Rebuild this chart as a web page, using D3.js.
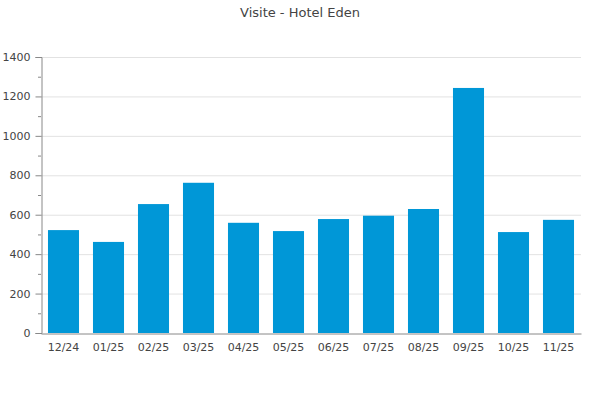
<!DOCTYPE html>
<html><head><meta charset="utf-8">
<script src="https://cdn.jsdelivr.net/npm/d3@7"></script>
<style>body{margin:0;background:#fff;} text{font-family:"DejaVu Sans",sans-serif;}</style>
</head><body>
<svg id="c" width="600" height="400"></svg>
<script>
const title = "Visite - Hotel Eden";
const categories = ["12/24","01/25","02/25","03/25","04/25","05/25","06/25","07/25","08/25","09/25","10/25","11/25"];
const visits = [522, 462, 654, 762, 559, 517, 578, 595, 629, 1243, 512, 574];
const yTicks = [0,200,400,600,800,1000,1200,1400];
const yMinorTicks = [100,300,500,700,900,1100,1300];

(function () {
const svg = d3.select("#c");
const mLeft = 41, mRight = 581, mTop = 57, mBottom = 333;
const x = d3.scaleBand().domain(categories).range([mLeft, mRight]).paddingInner(0.31).paddingOuter(0.155);
const y = d3.scaleLinear().domain([0, 1400]).range([mBottom, mTop]);

svg.append("text").attr("x", 300).attr("y", 17).attr("text-anchor", "middle")
  .attr("font-size", 13).attr("fill", "#444").text(title);

// grid
svg.append("g").selectAll("line").data(yTicks.filter(d => d > 0)).join("line")
  .attr("x1", mLeft).attr("x2", mRight).attr("y1", d => y(d) + 0.5).attr("y2", d => y(d) + 0.5)
  .attr("stroke", "#e2e2e2");

// bars
svg.append("g").selectAll("rect").data(visits).join("rect")
  .attr("x", (d, i) => x(categories[i])).attr("width", x.bandwidth())
  .attr("y", d => y(d)).attr("height", d => mBottom - y(d))
  .attr("fill", "#0097d7");

// y axis
const ya = svg.append("g").attr("transform", `translate(${mLeft + 0.5},0)`)
  .call(d3.axisLeft(y).tickValues(yTicks).tickSize(6).tickFormat(d3.format("d")));
ya.select(".domain").attr("stroke", "#888");
ya.selectAll(".tick line").attr("stroke", "#888");
ya.selectAll("text").attr("font-family", "DejaVu Sans").attr("font-size", 11).attr("fill", "#444").attr("dx", "-2");
svg.append("g").selectAll("line").data(yMinorTicks).join("line")
  .attr("x1", mLeft - 3).attr("x2", mLeft).attr("y1", d => y(d) + 0.5).attr("y2", d => y(d) + 0.5)
  .attr("stroke", "#888");

// x axis
const xa = svg.append("g").attr("transform", `translate(0,${mBottom + 0.5})`)
  .call(d3.axisBottom(x).tickSize(0).tickPadding(10));
xa.select(".domain").attr("stroke", "#888");
xa.selectAll("text").attr("font-family", "DejaVu Sans").attr("font-size", 11).attr("fill", "#444");
})();
</script>
</body></html>
